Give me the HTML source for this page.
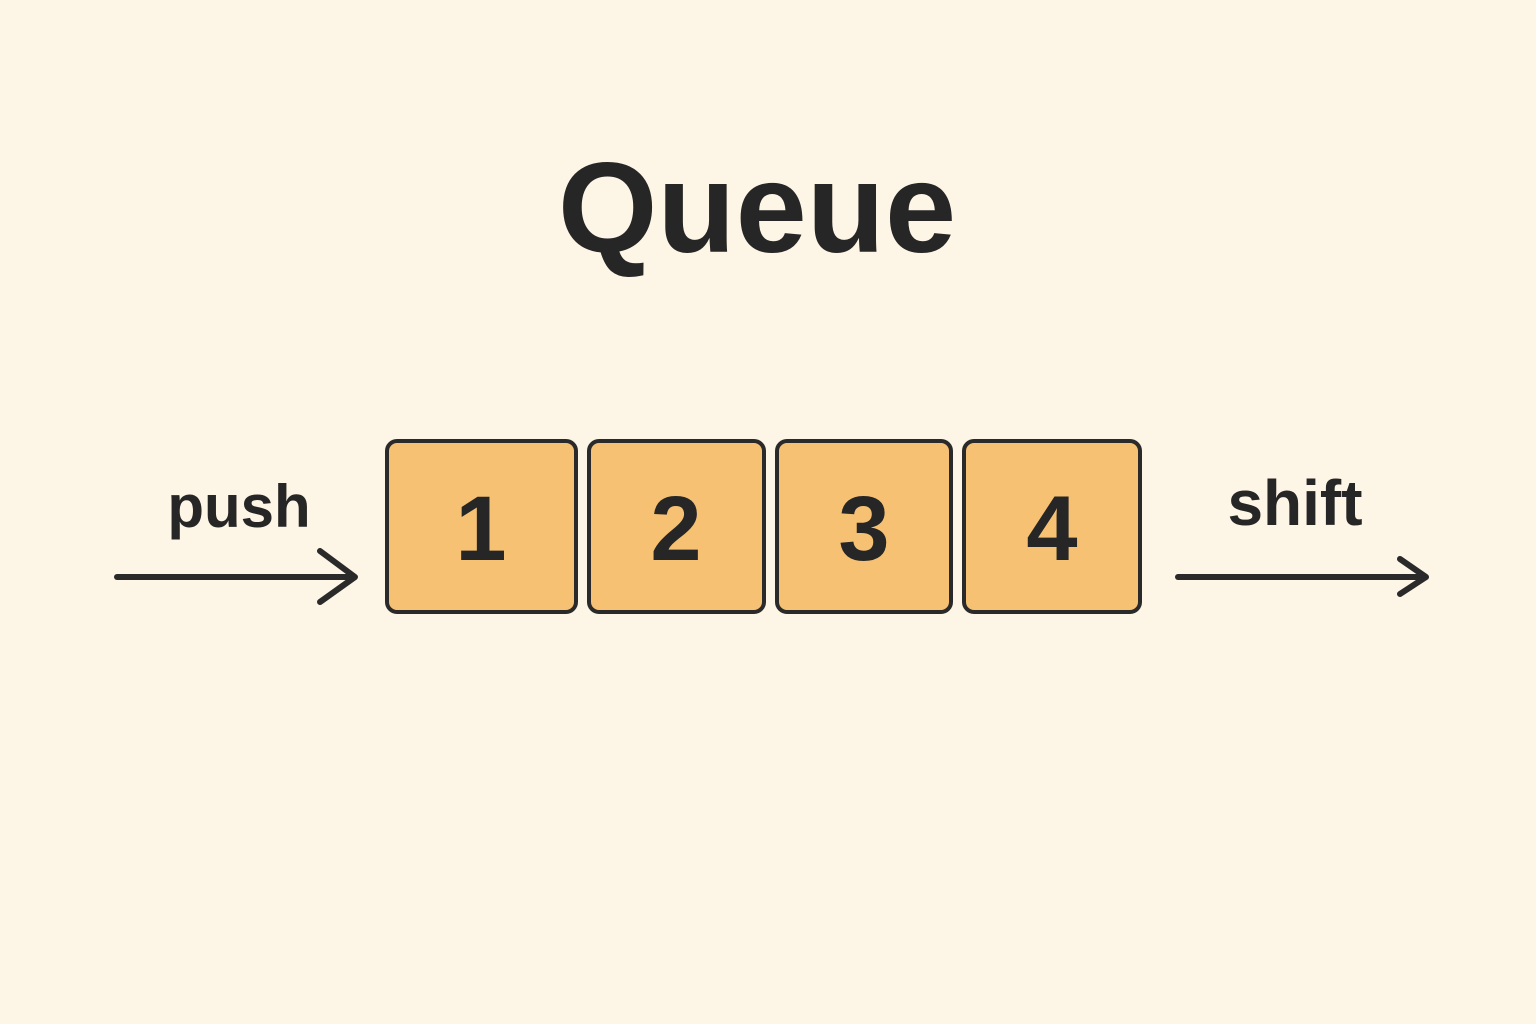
<!DOCTYPE html>
<html><head><meta charset="utf-8"><style>
html,body{margin:0;padding:0;background:#fdf5e5;}
svg{display:block}
text{font-family:"Liberation Sans",sans-serif;font-weight:bold;fill:#262626}
</style></head><body>
<svg width="1536" height="1024" viewBox="0 0 1536 1024">
<rect width="1536" height="1024" fill="#fdf5e5"/>
<text x="757" y="252" font-size="128" text-anchor="middle">Queue</text>
<g fill="#f7c174" stroke="#2a2a2a" stroke-width="4">
<rect x="387" y="441" width="189" height="171" rx="10"/>
<rect x="589" y="441" width="175" height="171" rx="10"/>
<rect x="777" y="441" width="174" height="171" rx="10"/>
<rect x="964" y="441" width="176" height="171" rx="10"/>
</g>
<g font-size="92" text-anchor="middle">
<text x="481" y="560">1</text>
<text x="676" y="560">2</text>
<text x="864" y="560">3</text>
<text x="1052" y="560">4</text>
</g>
<text x="239" y="527" font-size="60" text-anchor="middle">push</text>
<text x="1295" y="525" font-size="64" text-anchor="middle">shift</text>
<g stroke="#2a2a2a" stroke-width="6" stroke-linecap="round" stroke-linejoin="round" fill="none">
<line x1="117" y1="577" x2="353" y2="577"/>
<polyline points="320,551 355,577 320,602"/>
<line x1="1178" y1="577" x2="1424" y2="577"/>
<polyline points="1400,559 1426,577 1400,594"/>
</g>
</svg>
</body></html>
